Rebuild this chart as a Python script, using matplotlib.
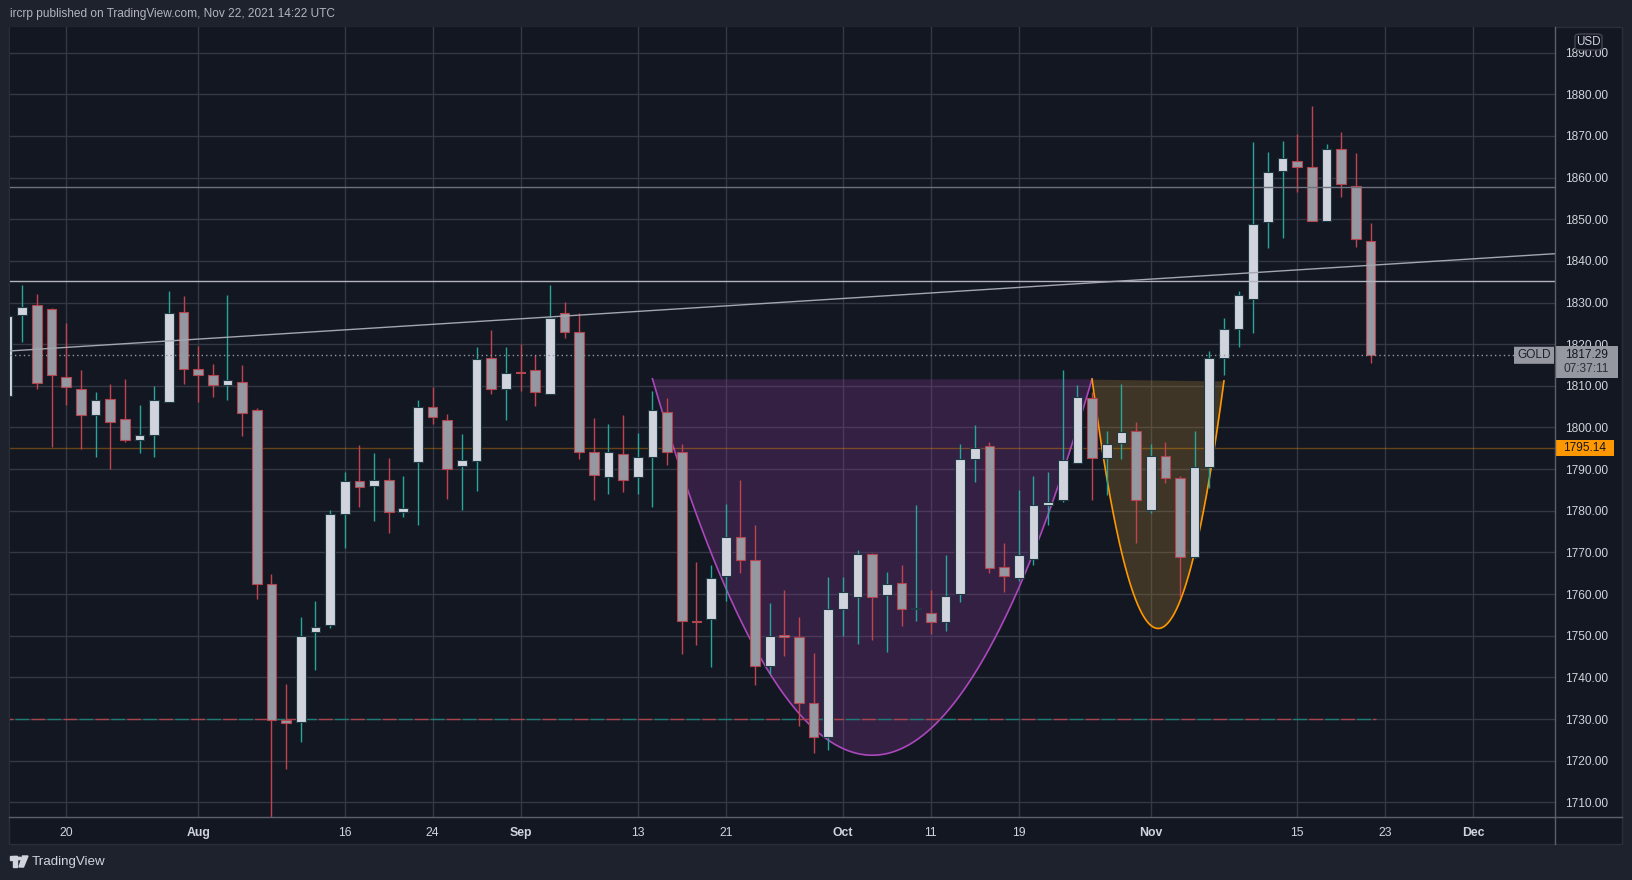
import numpy as np
import pandas as pd
import matplotlib
matplotlib.use('Agg')
import matplotlib.pyplot as plt
from matplotlib.patches import Rectangle, FancyBboxPatch, Polygon, Circle
from matplotlib.transforms import blended_transform_factory
from matplotlib.lines import Line2D

plt.rcParams['font.family'] = ['Liberation Sans', 'DejaVu Sans']

# Velas diarias (dias habiles) del 14 jul al 22 nov 2021
fechas = pd.bdate_range('2021-07-14', '2021-11-22')

apertura = [1807.5, 1826.9, 1829.3, 1828.5, 1812.1, 1809.3, 1803.1, 1806.9, 1802.1, 1797.1,
            1798.3, 1806.2, 1827.8, 1814.1, 1812.7, 1810.3, 1811.0, 1804.2, 1762.5, 1729.7,
            1729.2, 1751.0, 1752.6, 1779.3, 1787.2, 1786.0, 1787.5, 1779.8, 1791.8, 1805.0,
            1801.9, 1790.7, 1792.0, 1816.8, 1809.2, 1813.3, 1813.7, 1808.1, 1827.4, 1823.0,
            1794.1, 1788.2, 1793.7, 1788.2, 1793.0, 1803.8, 1794.2, 1753.6, 1754.1, 1764.4,
            1773.7, 1768.2, 1742.8, 1750.2, 1749.8, 1733.9, 1725.8, 1756.5, 1759.4, 1769.7,
            1759.7, 1762.7, 1756.4, 1755.4, 1753.4, 1759.9, 1792.5, 1795.5, 1766.5, 1763.9,
            1768.4, 1781.4, 1782.5, 1791.5, 1807.2, 1792.7, 1796.2, 1799.1, 1780.3, 1793.1,
            1787.8, 1768.8, 1790.6, 1816.7, 1823.7, 1830.9, 1849.3, 1861.7, 1863.9, 1862.5,
            1849.7, 1866.8, 1857.9, 1844.7]
maximo = [1829.0, 1834.2, 1832.0, 1828.7, 1825.0, 1813.7, 1808.5, 1810.4, 1811.6, 1805.3,
          1809.9, 1832.7, 1831.5, 1819.5, 1815.2, 1831.8, 1814.9, 1804.7, 1764.8, 1738.4,
          1754.4, 1758.3, 1780.3, 1789.2, 1795.7, 1793.8, 1792.6, 1788.4, 1806.5, 1809.7,
          1803.2, 1798.4, 1819.3, 1823.4, 1819.3, 1820.0, 1817.3, 1834.2, 1830.2, 1827.4,
          1802.2, 1800.9, 1803.0, 1798.6, 1808.7, 1807.0, 1796.1, 1767.6, 1767.1, 1781.7,
          1787.3, 1776.5, 1757.8, 1760.9, 1754.4, 1745.8, 1764.2, 1764.2, 1770.5, 1769.9,
          1765.2, 1766.9, 1781.3, 1761.0, 1769.3, 1796.1, 1800.5, 1796.4, 1772.2, 1785.1,
          1788.4, 1789.4, 1813.9, 1810.1, 1808.5, 1799.1, 1810.5, 1801.3, 1796.0, 1796.5,
          1788.3, 1799.2, 1818.4, 1826.4, 1832.8, 1868.6, 1866.1, 1868.8, 1870.5, 1877.2,
          1868.1, 1871.0, 1865.9, 1849.0]
minimo = [1806.0, 1820.6, 1809.3, 1795.3, 1805.4, 1794.9, 1792.9, 1790.0, 1796.5, 1793.9,
          1792.9, 1806.1, 1810.5, 1806.1, 1807.3, 1806.6, 1797.9, 1758.8, 1690.0, 1718.1,
          1724.5, 1741.7, 1751.9, 1771.1, 1780.9, 1777.5, 1774.7, 1778.5, 1776.7, 1800.9,
          1782.8, 1780.1, 1784.8, 1808.1, 1801.8, 1808.8, 1805.2, 1808.0, 1821.6, 1792.5,
          1782.6, 1784.0, 1784.5, 1784.0, 1781.0, 1790.9, 1745.6, 1747.7, 1742.5, 1758.3,
          1765.0, 1738.1, 1740.7, 1745.1, 1728.3, 1721.8, 1722.6, 1750.0, 1748.0, 1749.0,
          1746.1, 1752.3, 1753.5, 1750.3, 1751.1, 1758.1, 1786.9, 1765.0, 1760.5, 1763.1,
          1767.1, 1776.7, 1782.2, 1791.4, 1782.6, 1783.8, 1792.5, 1772.3, 1779.5, 1786.7,
          1759.2, 1768.6, 1785.5, 1812.7, 1819.4, 1822.8, 1843.2, 1845.6, 1856.6, 1849.7,
          1849.6, 1855.4, 1843.4, 1815.5]
cierre = [1826.8, 1829.0, 1810.8, 1812.5, 1809.8, 1803.1, 1806.7, 1801.2, 1796.9, 1798.3,
          1806.5, 1827.4, 1814.1, 1812.7, 1810.3, 1811.3, 1803.6, 1762.5, 1729.7, 1729.0,
          1750.0, 1752.1, 1779.3, 1787.2, 1785.7, 1787.5, 1779.7, 1780.7, 1805.0, 1802.6,
          1790.0, 1792.2, 1816.5, 1809.3, 1813.2, 1813.1, 1808.6, 1826.2, 1823.0, 1794.0,
          1788.7, 1794.1, 1787.5, 1793.0, 1804.1, 1794.0, 1753.6, 1753.4, 1763.9, 1773.7,
          1768.2, 1742.8, 1750.0, 1749.8, 1733.9, 1725.8, 1756.5, 1760.6, 1769.7, 1759.4,
          1762.5, 1756.3, 1756.7, 1753.4, 1759.6, 1792.4, 1795.0, 1766.3, 1764.4, 1769.4,
          1781.4, 1782.1, 1792.2, 1807.4, 1792.7, 1796.1, 1799.0, 1782.7, 1793.1, 1787.8,
          1768.8, 1790.6, 1816.6, 1823.6, 1831.7, 1848.8, 1861.3, 1864.6, 1862.5, 1849.7,
          1866.9, 1858.5, 1845.2, 1817.29]

# Eje de tiempo
etiquetas_x = ['20', 'Aug', '16', '24', 'Sep', '13', '21', 'Oct', '11', '19', 'Nov', '15', '23', 'Dec']
fechas_x = ['2021-07-20', '2021-08-02', '2021-08-16', '2021-08-24', '2021-09-01', '2021-09-13',
            '2021-09-21', '2021-10-01', '2021-10-11', '2021-10-19', '2021-11-01', '2021-11-15',
            '2021-11-23', '2021-12-01']
meses = ['Aug', 'Sep', 'Oct', 'Nov', 'Dec']
niveles_y = list(range(1710, 1891, 10))

# Dibujos del analisis
resistencia = 1835.1
resistencia_alta = 1857.7
soporte = 1730.0
soporte_fin = '2021-11-22'
precio_alerta = 1795.14
tendencia = [('2021-07-14', 1818.35), ('2021-11-22', 1838.95)]
taza = [('2021-09-14', 1811.7), ('2021-10-05', 1721.3), ('2021-10-26', 1811.7)]
asa = [('2021-10-26', 1811.6), ('2021-11-01', 1752.5), ('2021-11-08', 1811.2)]

dias = pd.bdate_range('2021-07-14', '2021-12-31')


def pos(fecha):
    return dias.get_loc(pd.Timestamp(fecha))


FONDO = '#131722'
MARCO = '#1e222d'
GRID = '#343844'
TEXTO = '#d1d4dc'

fig = plt.figure(figsize=(16.33, 8.8), dpi=100)
fig.patch.set_facecolor(MARCO)
W, H = 1633.0, 880.0


def fx(px):
    return px / W


def fy(py):
    return 1 - py / H


# panel del grafico
fig.add_artist(Rectangle((fx(9), fy(844)), fx(1622) - fx(9), fy(27) - fy(844),
                         transform=fig.transFigure, facecolor=FONDO, edgecolor='#2a2e39',
                         linewidth=1, zorder=0))

ax = fig.add_axes([fx(10), fy(817), fx(1555) - fx(10), fy(27) - fy(817)])
ax.set_facecolor(FONDO)
for s in ax.spines.values():
    s.set_visible(False)

x = np.arange(len(fechas))
ax.set_xlim(0.16, 105.59)
ax.set_ylim(1706.47, 1896.17)

# grid y etiquetas
ax.set_yticks(niveles_y)
ax.set_yticklabels([f'{v:.2f}' for v in niveles_y])
ax.set_xticks([pos(f) for f in fechas_x])
ax.set_xticklabels(etiquetas_x)
for t in ax.get_xticklabels():
    if t.get_text() in meses:
        t.set_fontweight('bold')
ax.yaxis.tick_right()
ax.tick_params(axis='y', length=0, pad=7.5, labelcolor=TEXTO, labelsize=8.6)
ax.tick_params(axis='x', length=0, pad=7, labelcolor=TEXTO, labelsize=8.8)
ax.grid(True, color=GRID, linewidth=1, zorder=0)
ax.set_axisbelow(True)


# taza y asa (arcos)
def arco(puntos, color_relleno, color_borde):
    px = [pos(p[0]) for p in puntos]
    py = [p[1] for p in puntos]
    coef = np.polyfit(px, py, 2)
    xs = np.linspace(px[0], px[-1], 300)
    curva = np.polyval(coef, xs)
    cuerda = np.interp(xs, [px[0], px[-1]], [py[0], py[-1]])
    ax.fill_between(xs, curva, cuerda, color=color_relleno, alpha=0.25, linewidth=0, zorder=1)
    ax.plot(xs, curva, color=color_borde, linewidth=1.2, zorder=1.5)


arco(taza, '#933ba2', '#ab47bc')
arco(asa, '#c38f32', '#ff9800')

# lineas horizontales
ax.axhline(precio_alerta, color='#ff9800', alpha=0.35, linewidth=1, zorder=1.6)
ax.hlines(soporte, -1, pos(soporte_fin) + 0.4, colors='#a8454d', linewidth=1,
          linestyles=[(0, (10, 13))], zorder=1.6)
ax.hlines(soporte, -1, pos(soporte_fin) + 0.4, colors='#1d7d75', linewidth=1,
          linestyles=[(11.5, (10, 13))], zorder=1.6)

# velas
sube = np.array(cierre) >= np.array(apertura)
base = np.minimum(apertura, cierre)
alto = np.maximum(np.abs(np.array(cierre) - np.array(apertura)), 0.25)
relleno = np.where(sube, '#d1d4dc', '#9598a1')
borde = np.where(sube, '#1f3a44', '#b4454f')
mecha = np.where(sube, '#26a69a', '#c2434d')
ax.vlines(x, minimo, maximo, colors=mecha, linewidth=1, zorder=2)
ax.bar(x, alto, bottom=base, width=0.66, color=relleno, edgecolor=borde, linewidth=0.8, zorder=3)

# lineas por encima de las velas
ax.axhline(resistencia, color='#b2b5be', linewidth=1, zorder=4)
ax.axhline(resistencia_alta, color='#6f727c', linewidth=1, zorder=4)
ax.axline((pos(tendencia[0][0]), tendencia[0][1]), (pos(tendencia[1][0]), tendencia[1][1]),
          color='#a3a6ae', linewidth=1, zorder=4)
ultimo = cierre[-1]
ax.axhline(ultimo, color='#9598a1', linewidth=1, linestyle=(0, (1, 2.2)), zorder=4)

# etiquetas del eje de precios
tr = blended_transform_factory(ax.transAxes, ax.transData)
ax_px = 1545.0
ax.add_patch(Rectangle((1.0, ultimo - 5.3), 63 / ax_px, 7.5, transform=tr, facecolor='#9598a1',
                       edgecolor='none', clip_on=False, zorder=10))
ax.text(1.0 + 31.5 / ax_px, ultimo, f'{ultimo:.2f}', transform=tr, ha='center', va='center',
        color='#131722', fontsize=8.6, clip_on=False, zorder=11)
ax.text(1.0 + 31.5 / ax_px, ultimo - 3.35, '07:37:11', transform=tr, ha='center', va='center',
        color='#2a2e39', fontsize=8.6, clip_on=False, zorder=11)
ax.add_patch(FancyBboxPatch((1.0 - 41 / ax_px, ultimo - 2.0), 40 / ax_px, 4.1, transform=tr,
                            boxstyle='round,pad=0,rounding_size=0.002', facecolor='#9598a1',
                            edgecolor='none', clip_on=False, zorder=10))
ax.text(1.0 - 21 / ax_px, ultimo + 0.05, 'GOLD', transform=tr, ha='center', va='center',
        color='#1e222d', fontsize=8.6, clip_on=False, zorder=11)
ax.add_patch(Rectangle((1.0, precio_alerta - 1.95), 59 / ax_px, 3.85, transform=tr,
                       facecolor='#ff9800', edgecolor='none', clip_on=False, zorder=10))
ax.text(1.0 + 29.5 / ax_px, precio_alerta, f'{precio_alerta:.2f}', transform=tr, ha='center',
        va='center', color='#131722', fontsize=8.6, clip_on=False, zorder=11)

# USD
fig.add_artist(FancyBboxPatch((fx(1575), fy(50)), fx(1602) - fx(1575), fy(34) - fy(50),
                              boxstyle='round,pad=0,rounding_size=0.003', transform=fig.transFigure,
                              facecolor=FONDO, edgecolor='#434651', linewidth=1, zorder=20))
fig.text(fx(1588.5), fy(42), 'USD', ha='center', va='center', color=TEXTO, fontsize=8.4, zorder=21)

# separadores
fig.add_artist(Line2D([fx(1555), fx(1555)], [fy(27), fy(844)], color='#5d606b', linewidth=1,
                      transform=fig.transFigure, zorder=15))
fig.add_artist(Line2D([fx(9), fx(1622)], [fy(817), fy(817)], color='#5d606b', linewidth=1,
                      transform=fig.transFigure, zorder=15))

# cabecera
fig.text(fx(10), fy(14), 'ircrp published on TradingView.com, Nov 22, 2021 14:22 UTC',
         ha='left', va='center', color='#b2b5be', fontsize=8.6)

# logo TradingView
logo = '#d1d4dc'
fig.add_artist(Rectangle((fx(10), fy(860)), fx(17) - fx(10), fy(856) - fy(860),
                         transform=fig.transFigure, color=logo))
fig.add_artist(Rectangle((fx(13.5), fy(867)), fx(17) - fx(13.5), fy(856) - fy(867),
                         transform=fig.transFigure, color=logo))
fig.add_artist(Circle((fx(19.5), fy(858.5)), 2.2 / W, transform=fig.transFigure, color=logo))
fig.add_artist(Polygon([(fx(22.5), fy(856)), (fx(28), fy(856)), (fx(23.5), fy(867)), (fx(19), fy(867))],
                       closed=True, transform=fig.transFigure, color=logo))
fig.text(fx(32), fy(862), 'TradingView', ha='left', va='center', color=logo, fontsize=9.6)

fig.savefig('out.png', dpi=100, facecolor=fig.get_facecolor())
